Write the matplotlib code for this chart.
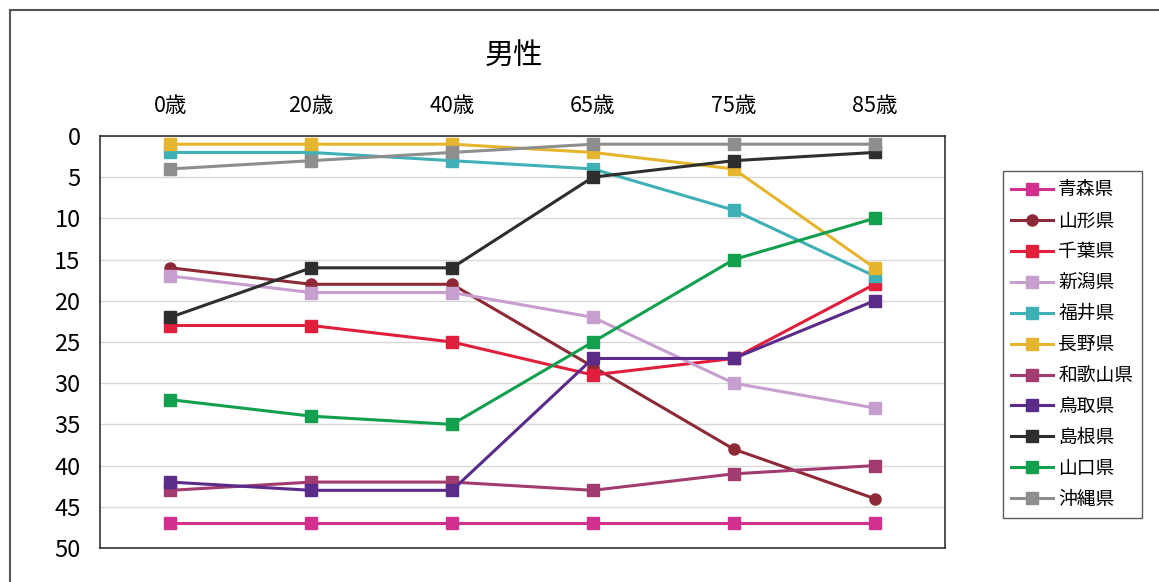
import matplotlib
matplotlib.use("Agg")
import matplotlib.pyplot as plt
from matplotlib.lines import Line2D

plt.rcParams['font.family'] = ['Noto Sans CJK JP', 'DejaVu Sans']

ages = ['0歳', '20歳', '40歳', '65歳', '75歳', '85歳']
prefs = ['青森県', '山形県', '千葉県', '新潟県', '福井県', '長野県',
         '和歌山県', '鳥取県', '島根県', '山口県', '沖縄県']

aomori   = [47, 47, 47, 47, 47, 47]
yamagata = [16, 18, 18, 28, 38, 44]
chiba    = [23, 23, 25, 29, 27, 18]
niigata  = [17, 19, 19, 22, 30, 33]
fukui    = [2, 2, 3, 4, 9, 17]
nagano   = [1, 1, 1, 2, 4, 16]
wakayama = [43, 42, 42, 43, 41, 40]
tottori  = [42, 43, 43, 27, 27, 20]
shimane  = [22, 16, 16, 5, 3, 2]
yamaguchi = [32, 34, 35, 25, 15, 10]
okinawa  = [4, 3, 2, 1, 1, 1]

series = [aomori, yamagata, chiba, niigata, fukui, nagano,
          wakayama, tottori, shimane, yamaguchi, okinawa]
colors = ['#d2308e', '#8e2a38', '#e11f3c', '#c79fcf', '#3fb0b6', '#e6b52e',
          '#a23b6f', '#5b2b8a', '#2e2e2e', '#12a04e', '#8e8e8e']
markers = ['s', 'o', 's', 's', 's', 's', 's', 's', 's', 's', 's']

fig = plt.figure(figsize=(11.59, 5.82), dpi=100)
ax = fig.add_axes([0.0863, 0.0584, 0.729, 0.708])

x = list(range(len(ages)))
handles = []
for name, vals, c, m in zip(prefs, series, colors, markers):
    ax.plot(x, vals, color=c, lw=2.2, marker=m, markersize=8,
            markeredgecolor=c, zorder=3)
    handles.append(Line2D([0], [0], color=c, lw=2.2, marker=m,
                          markersize=8, label=name))

ax.set_xlim(-0.5, 5.5)
ax.set_ylim(50, 0)
ax.set_yticks(range(0, 51, 5))
ax.tick_params(axis='y', length=0, labelsize=17, pad=14)
ax.xaxis.tick_top()
ax.set_xticks(x)
ax.set_xticklabels(ages)
ax.tick_params(axis='x', length=0, labelsize=15.5, pad=14)
ax.grid(axis='y', color='#d8d8d8', lw=1)
for s in ax.spines.values():
    s.set_color('#333333')
    s.set_linewidth(1.2)

ax.set_title('男性', fontsize=21, pad=52, x=0.49)

leg = fig.legend(handles=handles, loc='upper left',
                 bbox_to_anchor=(1003 / 1159, 1 - 171 / 582),
                 fontsize=13.5, frameon=True, fancybox=False,
                 handlelength=2.2, handletextpad=0.3, labelspacing=0.53,
                 borderpad=0.45, borderaxespad=0)
leg.get_frame().set_edgecolor('#333333')
leg.get_frame().set_linewidth(1.0)

# chart area border
fig.add_artist(Line2D([10 / 1159, 1.0], [1 - 10 / 582, 1 - 10 / 582],
                      color='#555555', lw=1.5, transform=fig.transFigure))
fig.add_artist(Line2D([10 / 1159, 10 / 1159], [0.0, 1 - 10 / 582],
                      color='#555555', lw=1.5, transform=fig.transFigure))

fig.savefig('out.png', dpi=100)
